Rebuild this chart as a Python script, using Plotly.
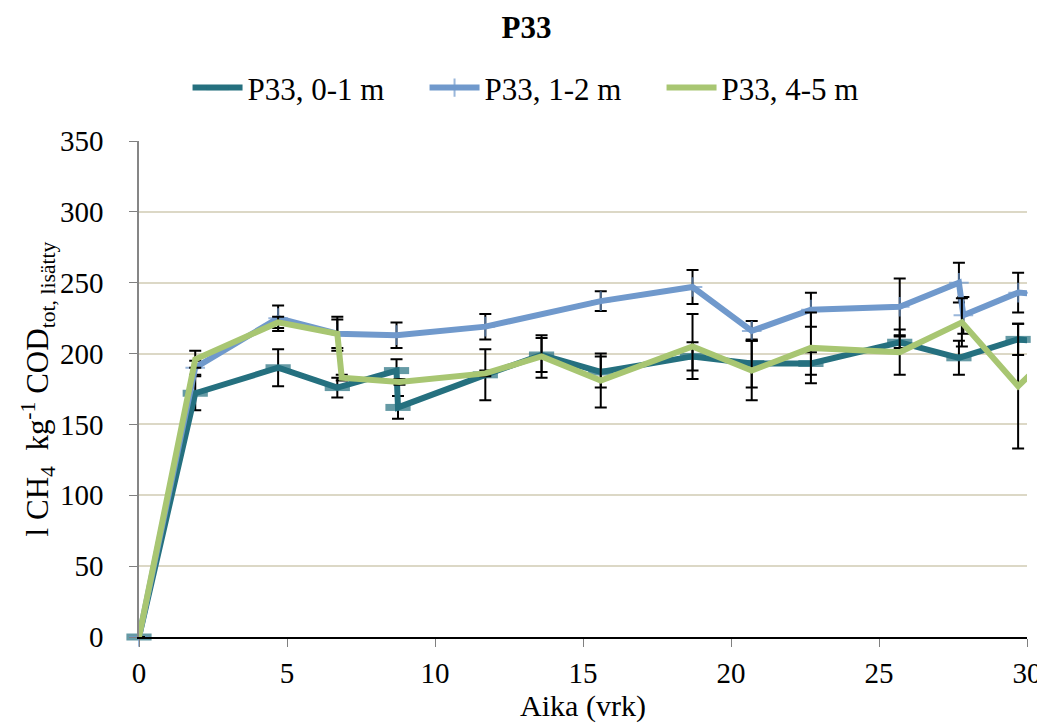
import plotly.graph_objects as go

# Data (days, l CH4 / kg COD)
teal_x = [0, 1.9, 4.7, 6.7, 8.7, 8.75, 11.7, 13.6, 15.6, 18.7, 20.7, 22.7, 25.7, 27.7, 29.7, 31.6]
teal_y = [0, 172, 190, 176, 188, 162, 185, 199, 187, 198, 193, 193, 208, 197, 210, 206]
teal_e = [0, 12, 13, 7, 8, 8, 18, 12, 11, 10, 17, 8, 4, 12, 11, 0]

blue_x = [0, 1.9, 4.7, 6.7, 8.7, 11.7, 15.6, 18.7, 20.7, 22.7, 25.7, 27.7, 27.85, 29.7, 31.6]
blue_y = [0, 190, 225, 214, 213, 219, 237, 247, 216, 231, 233, 250, 227, 243, 240]
blue_e = [0, 5, 9, 12, 9, 9, 7, 12, 7, 12, 20, 14, 13, 14, 0]

green_x = [0, 1.9, 4.7, 6.7, 6.85, 8.8, 11.7, 13.6, 15.6, 18.7, 20.7, 22.7, 25.7, 27.8, 29.7, 31.6]
green_y = [0, 196, 222, 214, 183, 180, 186, 198, 181, 205, 188, 204, 201, 222, 177, 215]
green_e = [0, 6, 4, 10, 2, 2, 2, 15, 19, 23, 21, 25, 16, 17, 44, 0]

names = ["P33, 0-1 m", "P33, 1-2 m", "P33, 4-5 m"]
colors = ["#25707f", "#7099cc", "#a8c672"]

FONT = "Liberation Serif, Times New Roman, serif"

def err(arr):
    return dict(type="data", array=arr, visible=True, color="black", thickness=2, width=6)

fig = go.Figure()
fig.add_trace(go.Scatter(
    x=teal_x, y=teal_y, name=names[0], mode="lines+markers",
    line=dict(color=colors[0], width=6),
    marker=dict(symbol="line-ew", size=[18] * (len(teal_x) - 1) + [0],
                color=colors[0], line=dict(color=colors[0], width=7)),
    error_y=err(teal_e), cliponaxis=False,
))
fig.add_trace(go.Scatter(
    x=blue_x, y=blue_y, name=names[1], mode="lines+markers",
    line=dict(color=colors[1], width=6),
    marker=dict(symbol="cross-thin", size=[14] * (len(blue_x) - 1) + [0],
                color=colors[1], line=dict(color=colors[1], width=2)),
    error_y=err(blue_e), cliponaxis=False,
))
fig.add_trace(go.Scatter(
    x=green_x, y=green_y, name=names[2], mode="lines",
    line=dict(color=colors[2], width=6),
    error_y=err(green_e),
))

fig.update_layout(
    width=1037, height=720,
    margin=dict(l=131, r=18, t=133, b=91),
    paper_bgcolor="white", plot_bgcolor="white",
    font=dict(family=FONT, size=24, color="black"),
    title=dict(text="<b>P33</b>", x=0.5, xanchor="center", y=0.974, yanchor="middle",
               font=dict(family=FONT, size=31, color="black")),
    legend=dict(orientation="h", x=0.455, xanchor="center", y=1.107, yanchor="middle",
                font=dict(family=FONT, size=31), itemwidth=50, tracegroupgap=0,
                entrywidth=172),
    showlegend=True,
)
fig.update_xaxes(
    range=[0, 30], tickvals=[0, 5, 10, 15, 20, 25, 30],
    showline=True, linecolor="black", linewidth=1.5,
    ticks="outside", ticklen=8, tickcolor="#808080", tickwidth=1,
    showgrid=False, zeroline=False, automargin=False,
    tickfont=dict(family=FONT, size=29), ticklabelstandoff=1,
    title=dict(text="Aika (vrk)", font=dict(family=FONT, size=30), standoff=6),
)
fig.update_yaxes(
    range=[0, 350], tickvals=[0, 50, 100, 150, 200, 250, 300, 350],
    showline=True, linecolor="#868686", linewidth=1.5,
    ticks="outside", ticklen=8, tickcolor="#808080", tickwidth=1,
    showgrid=True, gridcolor="#dcd8c6", gridwidth=2, zeroline=False, automargin=False,
    tickfont=dict(family=FONT, size=29), ticklabelstandoff=20,
    title=dict(text="l CH<sub>4</sub>  kg<sup>-1</sup> COD<sub>tot, lisätty</sub>",
               font=dict(family=FONT, size=31), standoff=2),
)

fig.write_html("out.html")
